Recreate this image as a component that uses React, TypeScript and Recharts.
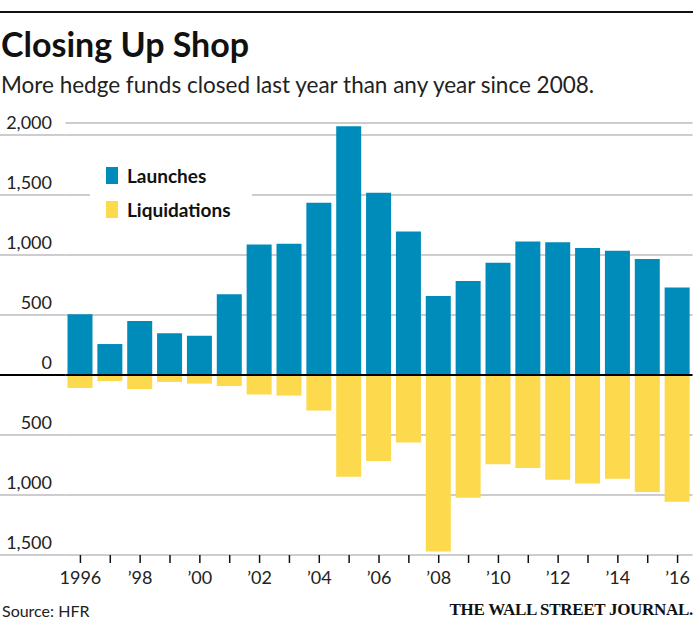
import { BarChart, Bar, XAxis, YAxis, CartesianGrid, ReferenceLine, Legend } from 'recharts';

const years = [
  1996, 1997, 1998, 1999, 2000, 2001, 2002, 2003, 2004, 2005, 2006,
  2007, 2008, 2009, 2010, 2011, 2012, 2013, 2014, 2015, 2016,
];
const launches = [
  506, 258, 450, 347, 328, 672, 1087, 1094, 1435, 2073, 1518,
  1196, 659, 784, 935, 1113, 1107, 1059, 1036, 966, 729,
];
const liquidations = [
  108, 50, 117, 58, 72, 92, 162, 172, 296, 848, 717,
  563, 1471, 1023, 743, 775, 873, 904, 864, 975, 1057,
];
const yTicks = [-1500, -1000, -500, 0, 500, 1000, 1500, 2000];

const BLUE = '#008cba';
const YELLOW = '#fdd94d';
const GRID = '#bdbdbd';
const FONT = "Lato, 'Noto Sans', sans-serif";

const data = years.map((year, i) => ({
  year,
  launches: launches[i],
  liquidations: -liquidations[i],
}));

const PLOT_LEFT = 65.5;

function YTick(props: any) {
  const { y, payload } = props;
  const v = payload.value as number;
  return (
    <g>
      <line x1={0} x2={PLOT_LEFT} y1={y} y2={y} stroke={v === 0 ? '#000' : GRID} strokeWidth={v === 0 ? 2 : 1.5} />
      <text x={52} y={y - 6} textAnchor="end" fontSize={18} fontFamily={FONT} fill="#222">
        {Math.abs(v).toLocaleString('en-US')}
      </text>
    </g>
  );
}

function XTick(props: any) {
  const { x, y, payload } = props;
  const yr = payload.value as number;
  if (yr % 2 === 1) return null;
  const label = yr === 1996 ? '1996' : '\u2019' + String(yr).slice(2);
  return (
    <text x={x} y={y + 19} textAnchor="middle" fontSize={18} fontFamily={FONT} fill="#222">
      {label}
    </text>
  );
}

function LegendBox(props: any) {
  const items = props.payload || [];
  return (
    <div style={{ background: '#fff', width: 162, height: 72, paddingTop: 12, paddingLeft: 16, boxSizing: 'border-box' }}>
      {items.map((it: any) => (
        <div key={it.value} style={{ display: 'flex', alignItems: 'center', height: 17, marginBottom: 17 }}>
          <span style={{ display: 'inline-block', width: 12, height: 17, background: it.color, marginRight: 9 }} />
          <span style={{ fontFamily: FONT, fontWeight: 700, fontSize: 19, color: '#111' }}>{it.value}</span>
        </div>
      ))}
    </div>
  );
}

export default function App() {
  return (
    <div style={{ position: 'relative', width: 700, height: 626, background: '#fff', overflow: 'hidden' }}>
      <style>{`body{margin:0}`}</style>
      <div style={{ position: 'absolute', left: 0, top: 11, width: 693, height: 2, background: '#111' }} />
      <div
        style={{
          position: 'absolute', left: 1, top: 25, fontFamily: FONT, fontWeight: 700,
          fontSize: 34, lineHeight: '38px', color: '#111', whiteSpace: 'nowrap',
        }}
      >
        Closing Up Shop
      </div>
      <div
        style={{
          position: 'absolute', left: 1, top: 71, fontFamily: FONT, fontSize: 22.5,
          lineHeight: '28px', color: '#222', whiteSpace: 'nowrap',
        }}
      >
        More hedge funds closed last year than any year since 2008.
      </div>
      <div style={{ position: 'absolute', left: 0, top: 0 }}>
        <BarChart
          width={700}
          height={626}
          data={data}
          stackOffset="sign"
          margin={{ top: 123, right: 7.5, bottom: 31, left: 0 }}
        >
          <CartesianGrid horizontal vertical={false} stroke={GRID} strokeWidth={1.5} />
          <XAxis
            dataKey="year"
            height={40}
            axisLine={false}
            tickSize={8}
            tickMargin={2}
            tickLine={{ stroke: '#111', strokeWidth: 1.5 }}
            tick={<XTick />}
            interval={0}
          />
          <YAxis
            width={PLOT_LEFT}
            domain={[-1500, 2100]}
            ticks={yTicks}
            axisLine={false}
            tickLine={false}
            tick={<YTick />}
            interval={0}
          />
          <Legend
            layout="horizontal"
            verticalAlign="middle"
            align="center"
            content={<LegendBox />}
            wrapperStyle={{ position: 'absolute', left: 90, top: 155, width: 162, height: 72 }}
          />
          <Bar dataKey="launches" name="Launches" stackId="a" fill={BLUE} barSize={25} isAnimationActive={false} />
          <Bar dataKey="liquidations" name="Liquidations" stackId="a" fill={YELLOW} barSize={25} isAnimationActive={false} />
          <ReferenceLine y={0} stroke="#000" strokeWidth={2} />
        </BarChart>
      </div>
      <div style={{ position: 'absolute', left: 2, top: 601, fontFamily: FONT, fontSize: 16, color: '#222' }}>
        Source: HFR
      </div>
      <div
        style={{
          position: 'absolute', right: 7, top: 600, fontFamily: "'Liberation Serif', 'DejaVu Serif', serif",
          fontWeight: 700, fontSize: 17, color: '#111', letterSpacing: -0.3,
        }}
      >
        THE WALL STREET JOURNAL.
      </div>
    </div>
  );
}
